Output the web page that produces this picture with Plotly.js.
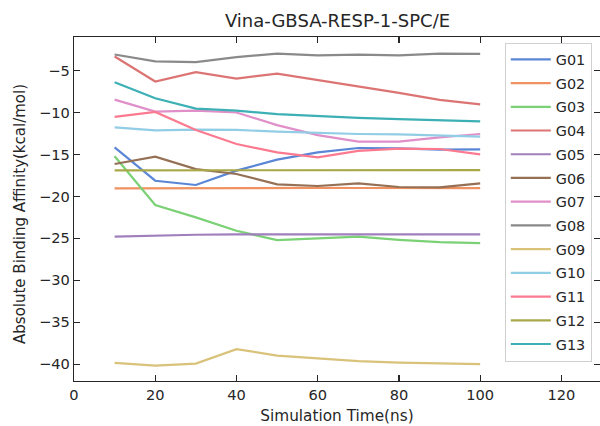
<!DOCTYPE html>
<html>
<head>
<meta charset="utf-8">
<script src="https://cdn.plot.ly/plotly-3.0.1.min.js"></script>
<style>html,body{margin:0;padding:0;background:#fff;}#chart{width:600px;height:426px;}</style>
</head>
<body>
<div id="chart"></div>
<script>
const times = [10, 20, 30, 40, 50, 60, 70, 80, 90, 100];
const seriesNames = ["G01","G02","G03","G04","G05","G06","G07","G08","G09","G10","G11","G12","G13"];
const G01 = [-14.15, -18.13, -18.64, -16.93, -15.62, -14.75, -14.23, -14.27, -14.43, -14.39];
const G02 = [-19.05, -19.02, -19.0, -19.0, -18.98, -18.98, -19.0, -19.0, -19.02, -19.02];
const G03 = [-15.22, -21.03, -22.5, -24.1, -25.2, -25.0, -24.8, -25.17, -25.44, -25.56];
const G04 = [-3.33, -6.31, -5.2, -5.95, -5.36, -6.1, -6.87, -7.67, -8.5, -9.02];
const G05 = [-24.8, -24.65, -24.57, -24.52, -24.52, -24.52, -24.52, -24.52, -24.52, -24.52];
const G06 = [-16.14, -15.27, -16.74, -17.33, -18.56, -18.76, -18.44, -18.88, -18.92, -18.44];
const G07 = [-8.46, -9.9, -9.77, -10.0, -11.5, -12.7, -13.47, -13.47, -12.96, -12.56];
const G08 = [-3.09, -3.9, -4.0, -3.4, -2.97, -3.2, -3.1, -3.2, -2.97, -3.0];
const G09 = [-39.84, -40.16, -39.92, -38.2, -38.97, -39.32, -39.64, -39.8, -39.92, -40.0];
const G10 = [-11.76, -12.12, -12.04, -12.08, -12.28, -12.44, -12.56, -12.6, -12.76, -12.88];
const G11 = [-10.53, -9.93, -12.08, -13.75, -14.75, -15.34, -14.58, -14.3, -14.35, -14.99];
const G12 = [-16.9, -16.9, -16.9, -16.9, -16.9, -16.9, -16.9, -16.9, -16.88, -16.86];
const G13 = [-6.39, -8.3, -9.53, -9.77, -10.2, -10.45, -10.65, -10.8, -10.9, -11.05];
const seriesValues = [G01,G02,G03,G04,G05,G06,G07,G08,G09,G10,G11,G12,G13];
const colors = ["#5b86d6","#ef9160","#7bd175","#dc7474","#a07fbd","#957055","#e08fc9","#8a8a8a","#d9c27a","#92cde6","#fc7a8f","#a8a848","#3cb0b4"];
const yTitle = "Absolute Binding Affinity(kcal/mol)";

const FONT = "DejaVu Sans, Liberation Sans, sans-serif";
const traces = seriesNames.map((n, i) => ({
  x: times, y: seriesValues[i], name: n, type: "scatter", mode: "lines",
  legendgroup: "g" + i,
  line: {color: colors[i], width: 2.2}
}));

const axisCommon = {
  showline: true, linecolor: "#262626", linewidth: 1.3, mirror: "ticks",
  ticks: "inside", ticklen: 6, tickwidth: 1.3, tickcolor: "#262626",
  showgrid: false, zeroline: false,
  tickfont: {family: FONT, size: 14.6, color: "#262626"}
};

const layout = {
  width: 600, height: 426,
  margin: {l: 74, r: 0, t: 37, b: 45, pad: 0},
  paper_bgcolor: "#ffffff", plot_bgcolor: "#ffffff",
  font: {family: FONT, color: "#262626"},
  title: {text: "Vina-GBSA-RESP-1-SPC/E", font: {family: FONT, size: 18, color: "#262626"},
          x: 0.5625, xanchor: "center", y: 0.952, yanchor: "middle"},
  xaxis: Object.assign({}, axisCommon, {
    range: [0, 129.5], tickmode: "linear", tick0: 0, dtick: 20,
    title: {text: "Simulation Time(ns)", font: {family: FONT, size: 15.3, color: "#262626"}, standoff: 8}
  }),
  yaxis: Object.assign({}, axisCommon, {
    range: [-42, -1], tickmode: "linear", tick0: -40, dtick: 5
  }),
  annotations: [{
    text: yTitle, xref: "paper", yref: "paper", x: -0.1027, y: 0.4855,
    xanchor: "center", yanchor: "middle", textangle: -90, showarrow: false,
    font: {family: FONT, size: 15, color: "#262626"}
  }],
  showlegend: true,
  legend: {
    x: 0.819, y: 0.984, xanchor: "left", yanchor: "top",
    bgcolor: "rgba(255,255,255,0.8)", bordercolor: "#d0d0d0", borderwidth: 1,
    font: {family: FONT, size: 14.4, color: "#262626"},
    tracegroupgap: 2, traceorder: "grouped", itemwidth: 40
  }
};

Plotly.newPlot("chart", traces, layout, {staticPlot: true, displayModeBar: false});
</script>
</body>
</html>
